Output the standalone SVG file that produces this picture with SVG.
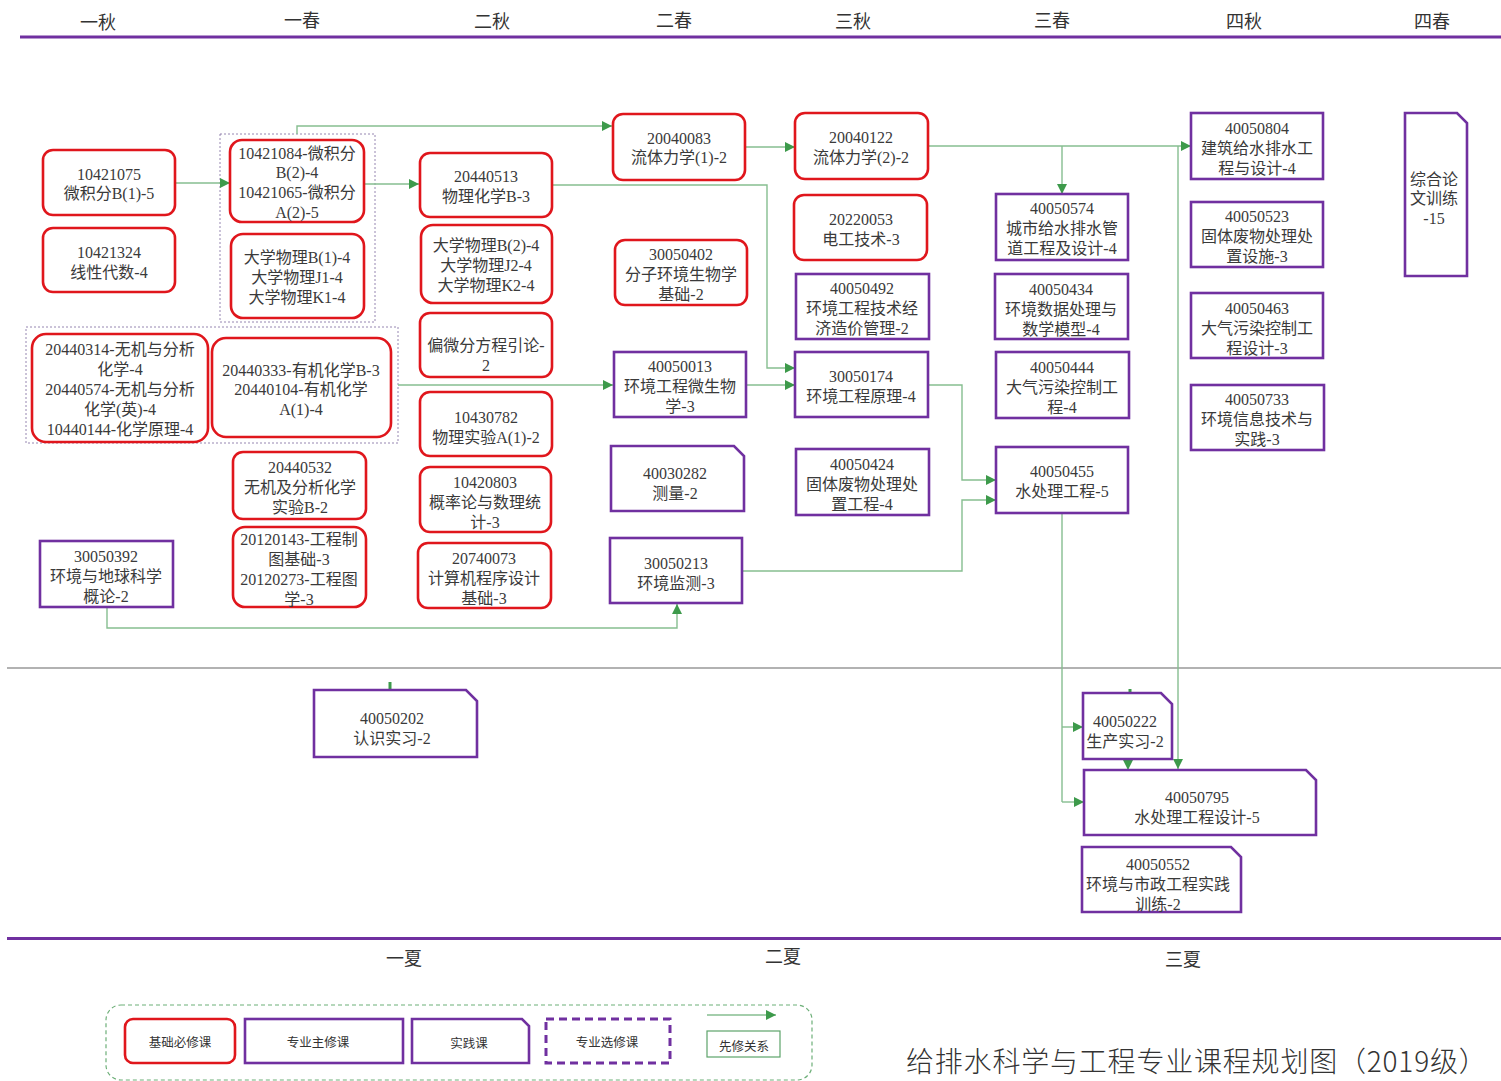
<svg xmlns="http://www.w3.org/2000/svg" width="1501" height="1081" viewBox="0 0 1501 1081">
<style>
.bg{fill:#fff}
.red{fill:#fff;stroke:#E0161C;stroke-width:2.6}
.pur{fill:#fff;stroke:#7030A0;stroke-width:2.6}
.grp{fill:none;stroke:#8A78A8;stroke-width:0.9;stroke-dasharray:2 2}
.t{font-family:"Liberation Serif","Noto Sans CJK SC",serif;font-size:16px;fill:#3A3A3A;text-anchor:middle;dominant-baseline:central}
.h{font-family:"Noto Sans CJK SC","Liberation Sans",sans-serif;font-size:18px;fill:#333;text-anchor:middle;dominant-baseline:central}
.lg{font-family:"Noto Sans CJK SC","Liberation Sans",sans-serif;font-size:12.5px;fill:#333;text-anchor:middle;dominant-baseline:central}
.c{fill:none;stroke:#86BE90;stroke-width:1.4}
.ca{fill:none;stroke:#86BE90;stroke-width:1.4;marker-end:url(#arr)}
</style>
<defs>
<marker id="arr" viewBox="0 0 10 10" refX="10" refY="5" markerWidth="10" markerHeight="10" markerUnits="userSpaceOnUse" orient="auto"><path d="M0,0 L10,5 L0,10 z" fill="#3D9A4B"/></marker>
</defs>
<rect class="bg" x="0" y="0" width="1501" height="1081"/>

<g id="header">
<text class="h" x="98" y="21">一秋</text>
<text class="h" x="302" y="19">一春</text>
<text class="h" x="492" y="20">二秋</text>
<text class="h" x="674" y="19">二春</text>
<text class="h" x="853" y="20">三秋</text>
<text class="h" x="1052" y="19">三春</text>
<text class="h" x="1244" y="20">四秋</text>
<text class="h" x="1432" y="20">四春</text>
<line x1="20" y1="37" x2="1501" y2="37" stroke="#7030A0" stroke-width="3"/>
<line x1="7" y1="668" x2="1501" y2="668" stroke="#666" stroke-width="1.2"/>
<line x1="7" y1="938.5" x2="1501" y2="938.5" stroke="#7030A0" stroke-width="3"/>
<text class="h" x="404" y="957">一夏</text>
<text class="h" x="783" y="955">二夏</text>
<text class="h" x="1183" y="958">三夏</text>
</g>

<g id="groups">
<rect class="grp" x="220" y="134" width="155" height="188"/>
<rect class="grp" x="26" y="327" width="372" height="116"/>
</g>

<g id="connectors">
<polyline class="ca" points="175,183 230,183"/>
<polyline class="ca" points="297,134 297,126 612,126"/>
<polyline class="ca" points="364,184 419,184"/>
<polyline class="ca" points="552,185 767,185 767,368 795,368"/>
<polyline class="ca" points="745,147 795,147"/>
<polyline class="ca" points="928,146 1191,146"/>
<polyline class="ca" points="1062,146 1062,194"/>
<polyline class="ca" points="1178,146 1178,769"/>
<polyline class="ca" points="398,385 613,385"/>
<polyline class="ca" points="746,385 795,385"/>
<polyline class="ca" points="928,385 962,385 962,480 996,480"/>
<polyline class="ca" points="742,571 962,571 962,500 996,500"/>
<polyline class="ca" points="107,607 107,628 677,628 677,604"/>
<polyline class="c" points="1062,513 1062,802"/>
<polyline class="ca" points="1062,727 1083,727"/>
<polyline class="ca" points="1062,802 1084,802"/>
<polyline class="ca" points="1128,759 1128,770"/>
<line x1="390" y1="682" x2="390" y2="690" stroke="#3D9A4B" stroke-width="3"/>
<line x1="1130" y1="689" x2="1130" y2="696" stroke="#3D9A4B" stroke-width="3"/>
</g>

<g id="n10421075"><rect class="red" x="43" y="150" width="132" height="65" rx="10"/>
<text class="t"><tspan x="109" y="174">10421075</tspan><tspan x="109" y="193">微积分B(1)-5</tspan></text></g>
<g id="n10421324"><rect class="red" x="43" y="228" width="132" height="64" rx="10"/>
<text class="t"><tspan x="109" y="252">10421324</tspan><tspan x="109" y="272">线性代数-4</tspan></text></g>
<g id="n10421084"><rect class="red" x="230" y="140" width="134" height="82" rx="12"/>
<text class="t"><tspan x="297" y="153">10421084-微积分</tspan><tspan x="297" y="172">B(2)-4</tspan><tspan x="297" y="192">10421065-微积分</tspan><tspan x="297" y="212">A(2)-5</tspan></text></g>
<g id="nphys1"><rect class="red" x="231" y="234" width="133" height="84" rx="12"/>
<text class="t"><tspan x="297" y="257">大学物理B(1)-4</tspan><tspan x="297" y="277">大学物理J1-4</tspan><tspan x="297" y="297">大学物理K1-4</tspan></text></g>
<g id="n20440314"><rect class="red" x="32" y="334" width="176" height="108" rx="14"/>
<text class="t"><tspan x="120" y="349">20440314-无机与分析</tspan><tspan x="120" y="369">化学-4</tspan><tspan x="120" y="389">20440574-无机与分析</tspan><tspan x="120" y="409">化学(英)-4</tspan><tspan x="120" y="429">10440144-化学原理-4</tspan></text></g>
<g id="n20440333"><rect class="red" x="212" y="338" width="179" height="99" rx="14"/>
<text class="t"><tspan x="301" y="370">20440333-有机化学B-3</tspan><tspan x="301" y="389">20440104-有机化学</tspan><tspan x="301" y="409">A(1)-4</tspan></text></g>
<g id="n20440532"><rect class="red" x="233" y="452" width="133" height="67" rx="10"/>
<text class="t"><tspan x="300" y="467">20440532</tspan><tspan x="300" y="487">无机及分析化学</tspan><tspan x="300" y="507">实验B-2</tspan></text></g>
<g id="n20120143"><rect class="red" x="233" y="527" width="133" height="80" rx="12"/>
<text class="t"><tspan x="299" y="539">20120143-工程制</tspan><tspan x="299" y="559">图基础-3</tspan><tspan x="299" y="579">20120273-工程图</tspan><tspan x="299" y="599">学-3</tspan></text></g>
<g id="n30050392"><rect class="pur" x="40" y="541" width="133" height="66"/>
<text class="t"><tspan x="106" y="556">30050392</tspan><tspan x="106" y="576">环境与地球科学</tspan><tspan x="106" y="596">概论-2</tspan></text></g>

<g id="n20440513"><rect class="red" x="420" y="153" width="132" height="64" rx="10"/>
<text class="t"><tspan x="486" y="176">20440513</tspan><tspan x="486" y="196">物理化学B-3</tspan></text></g>
<g id="nphys2"><rect class="red" x="421" y="225" width="131" height="78" rx="12"/>
<text class="t"><tspan x="486" y="245">大学物理B(2)-4</tspan><tspan x="486" y="265">大学物理J2-4</tspan><tspan x="486" y="285">大学物理K2-4</tspan></text></g>
<g id="npde"><rect class="red" x="420" y="313" width="132" height="64" rx="10"/>
<text class="t"><tspan x="486" y="345">偏微分方程引论-</tspan><tspan x="486" y="365">2</tspan></text></g>
<g id="n10430782"><rect class="red" x="420" y="392" width="132" height="64" rx="10"/>
<text class="t"><tspan x="486" y="417">10430782</tspan><tspan x="486" y="437">物理实验A(1)-2</tspan></text></g>
<g id="n10420803"><rect class="red" x="420" y="467" width="131" height="65" rx="10"/>
<text class="t"><tspan x="485" y="482">10420803</tspan><tspan x="485" y="502">概率论与数理统</tspan><tspan x="485" y="522">计-3</tspan></text></g>
<g id="n20740073"><rect class="red" x="418" y="543" width="133" height="65" rx="10"/>
<text class="t"><tspan x="484" y="558">20740073</tspan><tspan x="484" y="578">计算机程序设计</tspan><tspan x="484" y="598">基础-3</tspan></text></g>

<g id="n20040083"><rect class="red" x="613" y="114" width="132" height="66" rx="10"/>
<text class="t"><tspan x="679" y="138">20040083</tspan><tspan x="679" y="157">流体力学(1)-2</tspan></text></g>
<g id="n30050402"><rect class="red" x="615" y="240" width="132" height="65" rx="10"/>
<text class="t"><tspan x="681" y="254">30050402</tspan><tspan x="681" y="274">分子环境生物学</tspan><tspan x="681" y="294">基础-2</tspan></text></g>
<g id="n40050013"><rect class="pur" x="614" y="352" width="132" height="65"/>
<text class="t"><tspan x="680" y="366">40050013</tspan><tspan x="680" y="386">环境工程微生物</tspan><tspan x="680" y="406">学-3</tspan></text></g>
<g id="n40030282"><polygon class="pur" points="611,446 734,446 744,456 744,511 611,511"/>
<text class="t"><tspan x="675" y="473">40030282</tspan><tspan x="675" y="493">测量-2</tspan></text></g>
<g id="n30050213"><rect class="pur" x="610" y="538" width="132" height="65"/>
<text class="t"><tspan x="676" y="563">30050213</tspan><tspan x="676" y="583">环境监测-3</tspan></text></g>

<g id="n20040122"><rect class="red" x="795" y="113" width="133" height="66" rx="10"/>
<text class="t"><tspan x="861" y="137">20040122</tspan><tspan x="861" y="157">流体力学(2)-2</tspan></text></g>
<g id="n20220053"><rect class="red" x="794" y="195" width="133" height="65" rx="10"/>
<text class="t"><tspan x="861" y="219">20220053</tspan><tspan x="861" y="239">电工技术-3</tspan></text></g>
<g id="n40050492"><rect class="pur" x="796" y="274" width="133" height="65"/>
<text class="t"><tspan x="862" y="288">40050492</tspan><tspan x="862" y="308">环境工程技术经</tspan><tspan x="862" y="328">济造价管理-2</tspan></text></g>
<g id="n30050174"><rect class="pur" x="795" y="352" width="133" height="65"/>
<text class="t"><tspan x="861" y="376">30050174</tspan><tspan x="861" y="396">环境工程原理-4</tspan></text></g>
<g id="n40050424"><rect class="pur" x="796" y="449" width="133" height="66"/>
<text class="t"><tspan x="862" y="464">40050424</tspan><tspan x="862" y="484">固体废物处理处</tspan><tspan x="862" y="504">置工程-4</tspan></text></g>

<g id="n40050574"><rect class="pur" x="996" y="194" width="132" height="66"/>
<text class="t"><tspan x="1062" y="208">40050574</tspan><tspan x="1062" y="228">城市给水排水管</tspan><tspan x="1062" y="248">道工程及设计-4</tspan></text></g>
<g id="n40050434"><rect class="pur" x="995" y="274" width="133" height="65"/>
<text class="t"><tspan x="1061" y="289">40050434</tspan><tspan x="1061" y="309">环境数据处理与</tspan><tspan x="1061" y="329">数学模型-4</tspan></text></g>
<g id="n40050444"><rect class="pur" x="996" y="352" width="133" height="66"/>
<text class="t"><tspan x="1062" y="367">40050444</tspan><tspan x="1062" y="387">大气污染控制工</tspan><tspan x="1062" y="407">程-4</tspan></text></g>
<g id="n40050455"><rect class="pur" x="996" y="447" width="132" height="66"/>
<text class="t"><tspan x="1062" y="471">40050455</tspan><tspan x="1062" y="491">水处理工程-5</tspan></text></g>

<g id="n40050804"><rect class="pur" x="1191" y="113" width="132" height="66"/>
<text class="t"><tspan x="1257" y="128">40050804</tspan><tspan x="1257" y="148">建筑给水排水工</tspan><tspan x="1257" y="168">程与设计-4</tspan></text></g>
<g id="n40050523"><rect class="pur" x="1191" y="202" width="132" height="65"/>
<text class="t"><tspan x="1257" y="216">40050523</tspan><tspan x="1257" y="236">固体废物处理处</tspan><tspan x="1257" y="256">置设施-3</tspan></text></g>
<g id="n40050463"><rect class="pur" x="1191" y="293" width="132" height="65"/>
<text class="t"><tspan x="1257" y="308">40050463</tspan><tspan x="1257" y="328">大气污染控制工</tspan><tspan x="1257" y="348">程设计-3</tspan></text></g>
<g id="n40050733"><rect class="pur" x="1191" y="385" width="133" height="65"/>
<text class="t"><tspan x="1257" y="399">40050733</tspan><tspan x="1257" y="419">环境信息技术与</tspan><tspan x="1257" y="439">实践-3</tspan></text></g>
<g id="nthesis"><polygon class="pur" points="1405,113 1457,113 1467,123 1467,276 1405,276"/>
<text class="t"><tspan x="1434" y="179">综合论</tspan><tspan x="1434" y="198">文训练</tspan><tspan x="1434" y="218">-15</tspan></text></g>

<g id="n40050202"><polygon class="pur" points="314,690 466,690 477,701 477,757 314,757"/>
<text class="t"><tspan x="392" y="718">40050202</tspan><tspan x="392" y="738">认识实习-2</tspan></text></g>
<g id="n40050222"><polygon class="pur" points="1083,693 1161,693 1172,704 1172,759 1083,759"/>
<text class="t"><tspan x="1125" y="721">40050222</tspan><tspan x="1125" y="741">生产实习-2</tspan></text></g>
<g id="n40050795"><polygon class="pur" points="1084,770 1306,770 1316,780 1316,835 1084,835"/>
<text class="t"><tspan x="1197" y="797">40050795</tspan><tspan x="1197" y="817">水处理工程设计-5</tspan></text></g>
<g id="n40050552"><polygon class="pur" points="1082,847 1231,847 1241,857 1241,912 1082,912"/>
<text class="t"><tspan x="1158" y="864">40050552</tspan><tspan x="1158" y="884">环境与市政工程实践</tspan><tspan x="1158" y="904">训练-2</tspan></text></g>

<g id="legend">
<rect x="106" y="1005" width="706" height="75" rx="15" fill="none" stroke="#6DAF78" stroke-width="1.2" stroke-dasharray="4 3"/>
<rect class="red" x="125" y="1019" width="110" height="44" rx="8" stroke-width="3"/>
<text class="lg" x="180" y="1041">基础必修课</text>
<rect class="pur" x="245" y="1019" width="158" height="44" stroke-width="3"/>
<text class="lg" x="318" y="1041">专业主修课</text>
<polygon class="pur" points="412,1019 522,1019 529,1026 529,1063 412,1063" stroke-width="3"/>
<text class="lg" x="469" y="1042">实践课</text>
<rect x="546" y="1019" width="124" height="44" fill="none" stroke="#7030A0" stroke-width="3" stroke-dasharray="8 5"/>
<text class="lg" x="607" y="1041">专业选修课</text>
<line x1="707" y1="1015" x2="776" y2="1015" stroke="#86BE90" stroke-width="1.4" marker-end="url(#arr)"/>
<rect x="707" y="1031" width="73" height="26" fill="#fff" stroke="#5DA36A" stroke-width="1.2"/>
<text class="lg" x="744" y="1045">先修关系</text>
</g>

<g id="title">
<text x="906" y="1072" font-family="'Noto Sans CJK SC','Liberation Sans',sans-serif" font-size="28" font-weight="300" letter-spacing="0.8" fill="#333">给排水科学与工程专业课程规划图（2019级）</text>
</g>
</svg>
